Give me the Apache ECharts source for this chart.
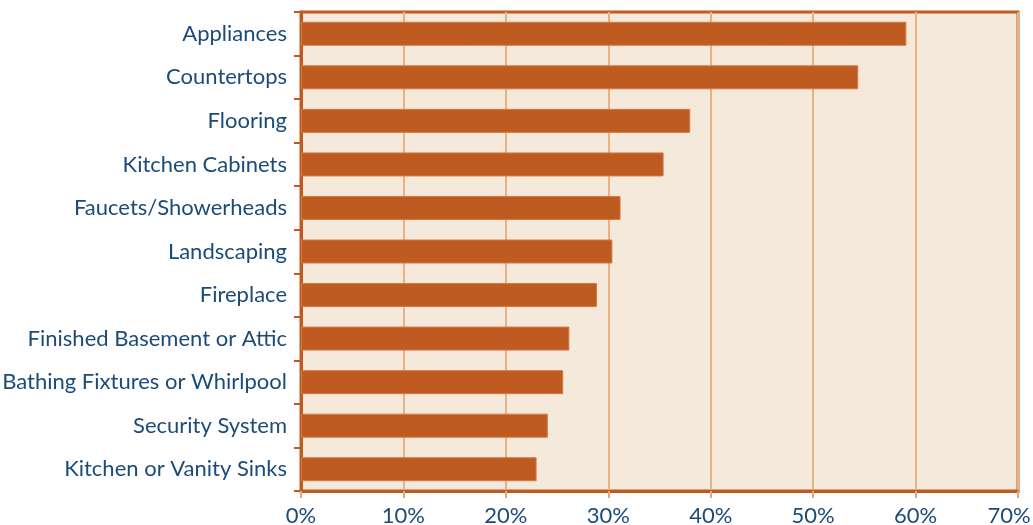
<!DOCTYPE html>
<html>
<head>
<meta charset="utf-8">
<script src="https://cdn.jsdelivr.net/npm/echarts@6/dist/echarts.min.js"></script>
<style>
  html, body { margin: 0; padding: 0; background: #fff; }
  #chart { width: 1033px; height: 525px; }
</style>
</head>
<body>
<div id="chart"></div>
<script>
const categories = [
    'Appliances', 'Countertops', 'Flooring', 'Kitchen Cabinets', 'Faucets/Showerheads',
    'Landscaping', 'Fireplace', 'Finished Basement or Attic', 'Bathing Fixtures or Whirlpool',
    'Security System', 'Kitchen or Vanity Sinks'
];
const shares = [59.1, 54.4, 38.0, 35.4, 31.2, 30.4, 28.9, 26.2, 25.6, 24.1, 23.0];

const orange = '#BF5B20';
const textBlue = '#1B4B78';

echarts.init(document.querySelector('#chart')).setOption({
    animation: false,
    textStyle: { fontFamily: 'Lato' },
    grid: {
        left: 301, right: 15, top: 12, bottom: 34,
        outerBoundsMode: 'none',
        containLabel: false,
        show: true,
        backgroundColor: '#F5E9DC',
        borderColor: orange,
        borderWidth: 3
    },
    xAxis: {
        type: 'value',
        min: 0, max: 70, interval: 10,
        axisLabel: {
            // keep the last label inside the page, as in the original
            formatter: (v) => v === 70 ? '{last|' + v + '%}' : v + '%',
            rich: { last: { fontSize: 22, color: textBlue, padding: [0, 18, 0, 0] } },
            color: textBlue, fontSize: 22, margin: 14
        },
        axisLine: { show: true, lineStyle: { color: orange, width: 3 } },
        axisTick: { show: true, length: 7, lineStyle: { color: '#E3A878', width: 2 } },
        splitLine: { show: true, lineStyle: { color: '#E9B283', width: 2 } }
    },
    yAxis: {
        type: 'category',
        inverse: true,
        data: categories,
        axisLabel: { color: textBlue, fontSize: 22, margin: 14 },
        axisLine: { show: true, lineStyle: { color: orange, width: 3 } },
        axisTick: { show: true, length: 7, lineStyle: { color: orange, width: 2 } }
    },
    series: [{
        type: 'bar',
        data: shares,
        barWidth: 24,
        itemStyle: { color: orange, borderColor: '#D27A45', borderWidth: 1 }
    }]
});
</script>
</body>
</html>
